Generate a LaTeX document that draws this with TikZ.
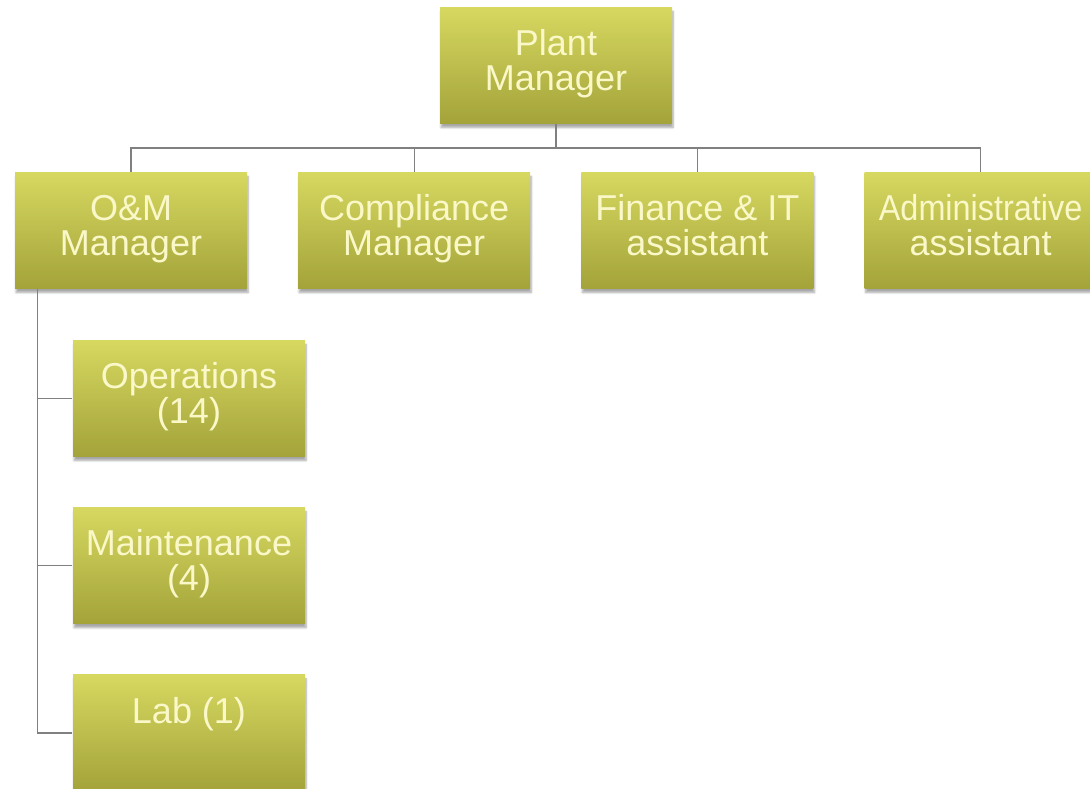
\documentclass[tikz,border=0pt]{standalone}
\usepackage{fontspec}
\setmainfont{Liberation Sans}
\usetikzlibrary{positioning, shadows.blur}

\definecolor{olivetop}{RGB}{214,216,96}
\definecolor{olivebot}{RGB}{163,163,58}
\definecolor{creamtext}{RGB}{250,248,200}
\definecolor{linkgrey}{RGB}{128,128,128}

\begin{document}
\begin{tikzpicture}[x=1pt, y=-1pt, line width=1.2pt,
    role/.style={minimum width=232pt, minimum height=116pt, inner sep=0pt,
      align=center, top color=olivetop, bottom color=olivebot, text=creamtext,
      font=\fontsize{36}{35}\selectfont,
      execute at begin node=\strut, execute at end node=\strut,
      blur shadow={shadow xshift=1pt, shadow yshift=-4pt, shadow blur steps=6, shadow opacity=35}},
    link/.style={draw=linkgrey}]
    \useasboundingbox (0, 0) rectangle (1090, 789);

    % draw plant manager
    \node[role] (pm) at (556, 65.5) {Plant\\Manager};

    % draw first row
    \node[role] (om) at (131, 230.5) {O\&M\\Manager};
    \node[role, right=50pt of om] (comp) {Compliance\\Manager};
    \node[role, right=50pt of comp] (fin) {Finance \& IT\\assistant};
    \node[role, right=50pt of fin] (adm) {\scalebox{0.9}[1]{Administrative}\\assistant};

    % draw o&m staff
    \node[role] (ops) at (189, 398.5) {Operations\\(14)};
    \node[role, below=50pt of ops] (mnt) {Maintenance\\(4)};
    \node[role, below=50pt of mnt] (lab) {Lab (1)\\\mbox{}};

    % draw bus from plant manager
    \coordinate (bus) at (0, 148);
    \foreach \n in {om, comp, fin, adm}
      \draw[link] (pm.south) |- (bus -| \n.north) -- (\n.north);

    % draw o&m side line
    \coordinate (omfoot) at ([xshift=23pt]om.south west);
    \foreach \n in {ops, mnt, lab}
      \draw[link] (omfoot) |- (\n.west);

\end{tikzpicture}
\end{document}
